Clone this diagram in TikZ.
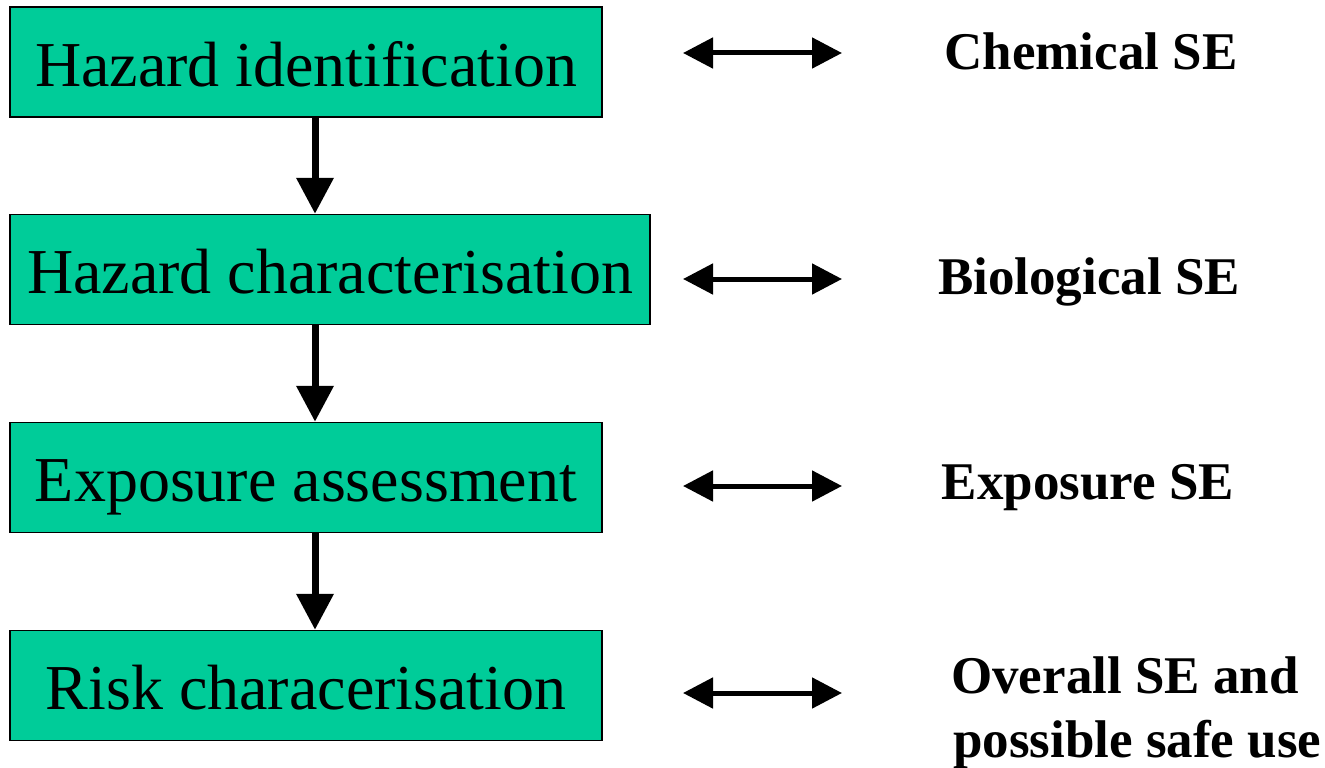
\documentclass[tikz,border=0pt]{standalone}
\usepackage{fontspec}
\setmainfont{Liberation Serif}
\usetikzlibrary{arrows.meta}
\definecolor{boxgreen}{RGB}{0,204,153}
\tikzset{
  stagebox/.style={draw=black, line width=1.5pt, fill=boxgreen, inner sep=0pt,
    minimum height=110pt, text height=48pt, text depth=0pt,
    font=\fontsize{64}{78}\selectfont},
  varrow/.style={line width=7pt, -{Triangle[width=36pt 0,length=36pt 0]}},
  harrow/.style={line width=5pt, {Triangle[width=30pt 0,length=30pt 0]}-{Triangle[width=30pt 0,length=30pt 0]}},
  selabel/.style={font=\bfseries\fontsize{53}{64}\selectfont, inner sep=0pt}
}
\begin{document}
\begin{tikzpicture}[x=1pt,y=-1pt]
\useasboundingbox (0,0) rectangle (1325,768);
\node[stagebox, minimum width=592pt] (b1) at (306,62) {Hazard identification};
\node[stagebox, minimum width=640pt] (b2) at (330,269.5) {Hazard characterisation};
\node[stagebox, minimum width=592pt] (b3) at (306,477.5) {Exposure assessment};
\node[stagebox, minimum width=592pt] (b4) at (306,685.5) {Risk characerisation};
\draw[varrow] ([xshift=9pt]b1.south) coordinate (s1) -- (s1 |- b2.north);
\draw[varrow] ([xshift=-15pt]b2.south) coordinate (s2) -- (s2 |- b3.north);
\draw[varrow] ([xshift=9pt]b3.south) coordinate (s3) -- (s3 |- b4.north);
\coordinate (l1) at (683,53);  \coordinate (r1) at (842,53);
\coordinate (l2) at (683,279); \coordinate (r2) at (842,279);
\coordinate (l3) at (683,486); \coordinate (r3) at (842,486);
\coordinate (l4) at (683,693); \coordinate (r4) at (842,693);
\draw[harrow] (l1) -- (r1);
\draw[harrow] (l2) -- (r2);
\draw[harrow] (l3) -- (r3);
\draw[harrow] (l4) -- (r4);
\node[selabel, anchor=base] (t1) at (1091,70) {Chemical SE};
\node[selabel, anchor=base] (t2) at (1089,294) {Biological SE};
\node[selabel, anchor=base] (t3) at (1088,499) {Exposure SE};
\node[selabel, anchor=base west] (t4a) at (951,693) {Overall SE and};
\node[selabel, anchor=base west] (t4b) at (953,757) {possible safe use};
\end{tikzpicture}
\end{document}
